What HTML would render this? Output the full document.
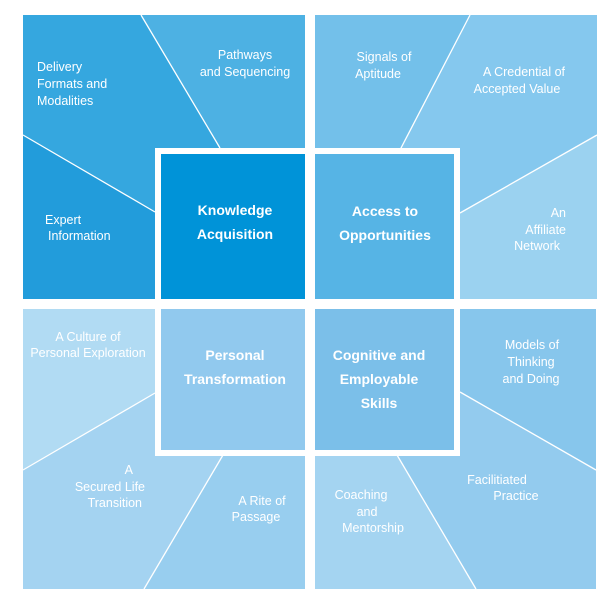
<!DOCTYPE html>
<html><head><meta charset="utf-8"><style>
html,body{margin:0;padding:0;background:#fff}
svg{display:block}
text{font-family:"Liberation Sans",sans-serif;fill:#fff;font-size:12.5px}
.b{font-weight:bold;font-size:14px}
</style></head><body>
<svg width="612" height="607" viewBox="0 0 612 607">
<!-- TL -->
<rect x="23" y="15" width="282" height="284" fill="#35a7df"/>
<polygon points="141,15 305,15 305,148 220,148" fill="#4db1e3"/>
<polygon points="23,135 155,212 155,299 23,299" fill="#229cdb"/>
<line x1="141" y1="15" x2="220" y2="148" stroke="#fff" stroke-width="1.3"/>
<line x1="23" y1="135" x2="155" y2="212" stroke="#fff" stroke-width="1.3"/>
<!-- TR -->
<rect x="315" y="15" width="282" height="284" fill="#85c8ee"/>
<polygon points="315,15 470,15 400,148 315,148" fill="#73c0ea"/>
<polygon points="460,213 597,135 597,299 460,299" fill="#9bd2f0"/>
<line x1="470" y1="15" x2="400" y2="150" stroke="#fff" stroke-width="1.3"/>
<line x1="460" y1="213" x2="597" y2="135" stroke="#fff" stroke-width="1.3"/>
<!-- BL -->
<rect x="23" y="309" width="282" height="280" fill="#a4d3f1"/>
<polygon points="23,309 155,309 155,393 23,470" fill="#b1dbf3"/>
<polygon points="223,455 305,455 305,589 144,589" fill="#98ceef"/>
<line x1="155" y1="393" x2="23" y2="470" stroke="#fff" stroke-width="1.3"/>
<line x1="223" y1="455" x2="144" y2="589" stroke="#fff" stroke-width="1.3"/>
<!-- BR -->
<rect x="315" y="309" width="281" height="280" fill="#93cbee"/>
<polygon points="460,309 596,309 596,470 460,392" fill="#87c6ec"/>
<polygon points="315,455 397,455 476,589 315,589" fill="#a4d4f1"/>
<line x1="460" y1="392" x2="596" y2="470" stroke="#fff" stroke-width="1.3"/>
<line x1="397" y1="455" x2="476" y2="589" stroke="#fff" stroke-width="1.3"/>
<!-- center -->
<rect x="161" y="154" width="144" height="145" fill="#0093d8"/>
<rect x="315" y="154" width="139" height="145" fill="#56b4e5"/>
<rect x="161" y="309" width="144" height="141" fill="#91c9ee"/>
<rect x="315" y="309" width="139" height="141" fill="#7bbfe9"/>
<rect x="158" y="151" width="299" height="302" fill="none" stroke="#fff" stroke-width="6"/>
<rect x="305" y="0" width="10" height="607" fill="#fff"/>
<rect x="0" y="299" width="612" height="10" fill="#fff"/>
<!-- labels -->
<text x="37" y="71">Delivery</text>
<text x="37" y="88">Formats and</text>
<text x="37" y="105">Modalities</text>
<text x="245" y="59" text-anchor="middle">Pathways</text>
<text x="245" y="76" text-anchor="middle">and Sequencing</text>
<text x="45" y="224">Expert</text>
<text x="48" y="240">Information</text>
<text x="235" y="215" text-anchor="middle" class="b">Knowledge</text>
<text x="235" y="239" text-anchor="middle" class="b">Acquisition</text>
<text x="384" y="61" text-anchor="middle">Signals of</text>
<text x="378" y="78" text-anchor="middle">Aptitude</text>
<text x="524" y="76" text-anchor="middle">A Credential of</text>
<text x="517" y="93" text-anchor="middle">Accepted Value</text>
<text x="566" y="217" text-anchor="end">An</text>
<text x="566" y="234" text-anchor="end">Affiliate</text>
<text x="560" y="250" text-anchor="end">Network</text>
<text x="385" y="216" text-anchor="middle" class="b">Access to</text>
<text x="385" y="240" text-anchor="middle" class="b">Opportunities</text>
<text x="88" y="341" text-anchor="middle">A Culture of</text>
<text x="88" y="357" text-anchor="middle">Personal Exploration</text>
<text x="133" y="474" text-anchor="end">A</text>
<text x="145" y="491" text-anchor="end">Secured Life</text>
<text x="142" y="507" text-anchor="end">Transition</text>
<text x="262" y="505" text-anchor="middle">A Rite of</text>
<text x="256" y="521" text-anchor="middle">Passage</text>
<text x="235" y="360" text-anchor="middle" class="b">Personal</text>
<text x="235" y="384" text-anchor="middle" class="b">Transformation</text>
<text x="379" y="360" text-anchor="middle" class="b">Cognitive and</text>
<text x="379" y="384" text-anchor="middle" class="b">Employable</text>
<text x="379" y="408" text-anchor="middle" class="b">Skills</text>
<text x="532" y="349" text-anchor="middle">Models of</text>
<text x="531" y="366" text-anchor="middle">Thinking</text>
<text x="531" y="383" text-anchor="middle">and Doing</text>
<text x="497" y="484" text-anchor="middle">Facilitiated</text>
<text x="516" y="500" text-anchor="middle">Practice</text>
<text x="361" y="499" text-anchor="middle">Coaching</text>
<text x="367" y="516" text-anchor="middle">and</text>
<text x="373" y="532" text-anchor="middle">Mentorship</text>
</svg>
</body></html>
